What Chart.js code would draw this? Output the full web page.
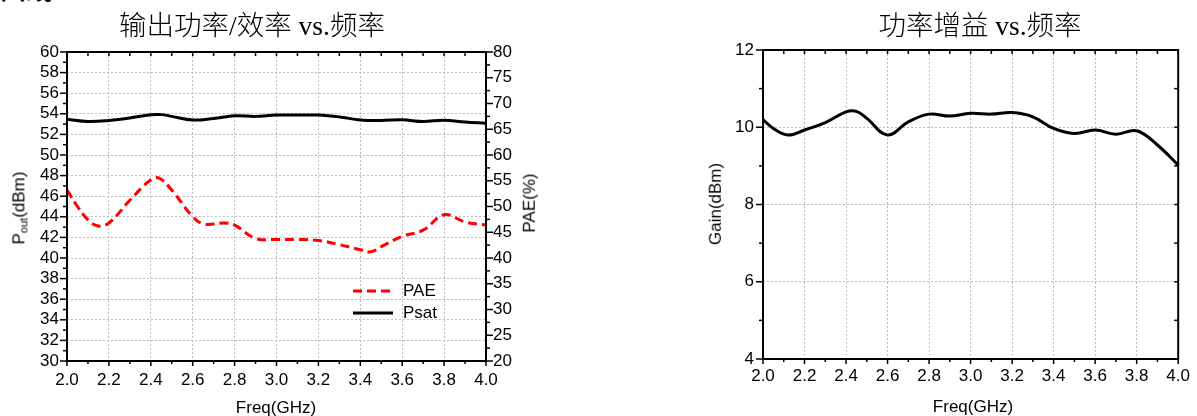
<!DOCTYPE html>
<html><head><meta charset="utf-8">
<script src="https://cdn.jsdelivr.net/npm/chart.js@4.4.1/dist/chart.umd.min.js"></script>
<style>
html,body{margin:0;padding:0;background:#fff;width:1197px;height:416px;overflow:hidden;position:relative;font-family:"Liberation Sans",Arial,sans-serif;color:#000}
canvas{position:absolute;top:0}
#c1{left:0}
#c2{left:600px}
.t{position:absolute;white-space:nowrap;transform:translate(-50%,-50%);line-height:1.2}
.title{font-size:27.5px;font-family:"Liberation Serif","Noto Sans CJK SC",serif;font-weight:300}
.ax{font-size:17px}
.vt{transform:translate(-50%,-50%) rotate(-90deg)}
sub{font-size:11px;vertical-align:-3px}
#cut{position:absolute;left:0;top:-25px;font:bold 26px "Noto Sans CJK SC";line-height:26px;white-space:nowrap}
</style></head><body>
<div id="cut">曲线</div>
<canvas id="c1" width="600" height="416"></canvas>
<canvas id="c2" width="597" height="416"></canvas>
<div class="t title" style="left:252px;top:25px">输出功率/效率 vs.频率</div>
<div class="t title" style="left:980px;top:25px">功率增益 vs.频率</div>
<div class="t ax" style="left:276px;top:408px">Freq(GHz)</div>
<div class="t ax" style="left:973px;top:407px">Freq(GHz)</div>
<div class="t ax vt" style="left:20px;top:208px">P<sub>out</sub>(dBm)</div>
<div class="t ax vt" style="left:530px;top:203px">PAE(%)</div>
<div class="t ax vt" style="left:716px;top:204px">Gain(dBm)</div>
<script>
// ---- data ----
const psatFreq = [2.0,2.1,2.2,2.3,2.4,2.45,2.5,2.6,2.7,2.8,2.9,3.0,3.1,3.2,3.3,3.4,3.5,3.6,3.7,3.8,3.9,4.0];
const psatDbm  = [53.47,53.25,53.35,53.6,53.9,53.92,53.75,53.4,53.55,53.8,53.75,53.88,53.88,53.88,53.7,53.4,53.35,53.42,53.25,53.38,53.2,53.08];
const paeFreq  = [2.0,2.05,2.1,2.15,2.2,2.3,2.4,2.44,2.5,2.6,2.65,2.7,2.75,2.8,2.9,3.0,3.1,3.2,3.3,3.4,3.45,3.5,3.6,3.7,3.8,3.9,4.0];
const paePct   = [53.2,50.0,47.4,46.2,46.8,51.2,55.2,55.5,53.2,48.0,46.6,46.6,46.8,46.4,43.8,43.6,43.6,43.4,42.6,41.6,41.2,42.2,44.2,45.4,48.4,47.0,46.4];
const gainFreq = [2.0,2.05,2.12,2.2,2.3,2.4,2.45,2.5,2.6,2.7,2.8,2.9,3.0,3.1,3.2,3.3,3.4,3.5,3.6,3.7,3.8,3.9,4.0];
const gainDb   = [10.2,9.97,9.8,9.93,10.12,10.4,10.41,10.23,9.8,10.14,10.34,10.29,10.36,10.34,10.38,10.27,9.97,9.84,9.93,9.82,9.91,9.54,9.02];
const freqTicks = [2.0,2.2,2.4,2.6,2.8,3.0,3.2,3.4,3.6,3.8,4.0];
const poutTicks = [30,32,34,36,38,40,42,44,46,48,50,52,54,56,58,60];
const paeTicks  = [20,25,30,35,40,45,50,55,60,65,70,75,80];
const gainTicks = [4,6,8,10,12];

const FONT = {family:'"Liberation Sans", Arial, sans-serif', size:17};
const GRID = {color:'#bdbdbd', lineWidth:1, drawTicks:false};
const setTicks = arr => s => { s.ticks = arr.map(v => ({value:v})); };

function deco(spec){
  return {
    id:'deco',
    afterDraw(chart){
      const ctx = chart.ctx, a = chart.chartArea;
      ctx.save();
      ctx.setLineDash([]);
      ctx.strokeStyle = '#000';
      ctx.lineWidth = 1.5;
      for (const t of spec.ticks){
        const sc = chart.scales[t.scale];
        const n = Math.round((sc.max - sc.min)/t.step);
        for (let i=0;i<=n;i++){
          const v = sc.min + i*t.step;
          const q = (v - sc.min)/t.major;
          const major = Math.abs(q - Math.round(q)) < 1e-6;
          const len = major ? t.lenMajor : t.lenMinor;
          const p = sc.getPixelForValue(v);
          ctx.beginPath();
          if (t.side==='bottom'){ ctx.moveTo(p,a.bottom); ctx.lineTo(p,a.bottom+(t.in?-len:len)); }
          else if (t.side==='top'){ ctx.moveTo(p,a.top); ctx.lineTo(p,a.top+(t.in?len:-len)); }
          else if (t.side==='left'){ ctx.moveTo(a.left,p); ctx.lineTo(a.left+(t.in?len:-len),p); }
          else { ctx.moveTo(a.right,p); ctx.lineTo(a.right+(t.in?-len:len),p); }
          ctx.stroke();
        }
      }
      ctx.lineWidth = 2;
      ctx.strokeRect(a.left,a.top,a.right-a.left,a.bottom-a.top);
      if (spec.legend) spec.legend(chart, ctx, a);
      ctx.restore();
    }
  };
}

function xScale(h, pad){
  return {type:'linear', position:'bottom', min:2, max:4,
    afterFit:s=>{s.height=h;}, afterBuildTicks:setTicks(freqTicks),
    ticks:{autoSkip:false, maxRotation:0, padding:pad, color:'#000', font:FONT, callback:v=>Number(v).toFixed(1)},
    grid:GRID, border:{display:false, dash:[2,2]}};
}

new Chart(document.getElementById('c1'), {
  type:'line',
  data:{datasets:[
    {label:'Psat', data:psatFreq.map((f,i)=>({x:f,y:psatDbm[i]})), yAxisID:'y',
     borderColor:'#000', borderWidth:3, pointRadius:0, tension:0.4, fill:false},
    {label:'PAE', data:paeFreq.map((f,i)=>({x:f,y:paePct[i]})), yAxisID:'y2',
     borderColor:'#ff0000', borderWidth:3, borderDash:[9,5], pointRadius:0, tension:0.4, fill:false}
  ]},
  options:{
    responsive:false, animation:false, devicePixelRatio:1,
    layout:{padding:{top:52,left:0,right:0,bottom:0}},
    plugins:{legend:{display:false}, tooltip:{enabled:false}},
    scales:{
      x:xScale(55, 9),
      y:{type:'linear', position:'left', min:30, max:60,
        afterFit:s=>{s.width=67;}, afterBuildTicks:setTicks(poutTicks),
        ticks:{autoSkip:false, padding:8, color:'#000', font:FONT, callback:v=>String(v)},
        grid:GRID, border:{display:false, dash:[2,2]}},
      y2:{type:'linear', position:'right', min:20, max:80,
        afterFit:s=>{s.width=114;}, afterBuildTicks:setTicks(paeTicks),
        ticks:{autoSkip:false, padding:7, color:'#000', font:FONT, callback:v=>String(v)},
        grid:{drawOnChartArea:false, drawTicks:false}, border:{display:false}}
    }
  },
  plugins:[deco({
    ticks:[
      {scale:'x', side:'bottom', step:0.1, major:0.2, lenMajor:5, lenMinor:3},
      {scale:'x', side:'top', in:true, step:0.1, major:0.2, lenMajor:4, lenMinor:4},
      {scale:'y', side:'left', step:1, major:2, lenMajor:7, lenMinor:4},
      {scale:'y2', side:'right', step:2.5, major:5, lenMajor:7, lenMinor:4}
    ],
    legend:(chart, ctx, a)=>{
      const ds = chart.data.datasets;
      const x0 = a.left+286, x1 = a.left+326, tx = a.left+336;
      const rows = [{d:ds[1], y:a.top+239}, {d:ds[0], y:a.top+261}];
      ctx.font = '17px "Liberation Sans", Arial, sans-serif';
      ctx.textBaseline = 'middle'; ctx.textAlign = 'left'; ctx.fillStyle = '#000';
      for (const r of rows){
        ctx.lineWidth = 3; ctx.strokeStyle = r.d.borderColor;
        ctx.setLineDash(r.d.borderDash || []);
        ctx.beginPath(); ctx.moveTo(x0,r.y); ctx.lineTo(x1,r.y); ctx.stroke();
        ctx.setLineDash([]);
        ctx.fillText(r.d.label, tx, r.y);
      }
    }
  })]
});

new Chart(document.getElementById('c2'), {
  type:'line',
  data:{datasets:[
    {label:'Gain', data:gainFreq.map((f,i)=>({x:f,y:gainDb[i]})), yAxisID:'y',
     borderColor:'#000', borderWidth:3, pointRadius:0, tension:0.4, fill:false}
  ]},
  options:{
    responsive:false, animation:false, devicePixelRatio:1,
    layout:{padding:{top:50,left:0,right:14,bottom:0}},
    plugins:{legend:{display:false}, tooltip:{enabled:false}},
    scales:{
      x:xScale(57, 7),
      y:{type:'linear', position:'left', min:4, max:12,
        afterFit:s=>{s.width=163;}, afterBuildTicks:setTicks(gainTicks),
        ticks:{autoSkip:false, padding:9, color:'#000', font:FONT, callback:v=>String(v)},
        grid:GRID, border:{display:false, dash:[2,2]}}
    }
  },
  plugins:[deco({
    ticks:[
      {scale:'x', side:'bottom', step:0.1, major:0.2, lenMajor:5, lenMinor:3},
      {scale:'x', side:'top', in:true, step:0.1, major:0.2, lenMajor:4, lenMinor:4},
      {scale:'y', side:'left', step:1, major:2, lenMajor:7, lenMinor:4},
      {scale:'y', side:'right', in:true, step:1, major:1, lenMajor:4, lenMinor:4}
    ]
  })]
});
</script>
</body></html>
